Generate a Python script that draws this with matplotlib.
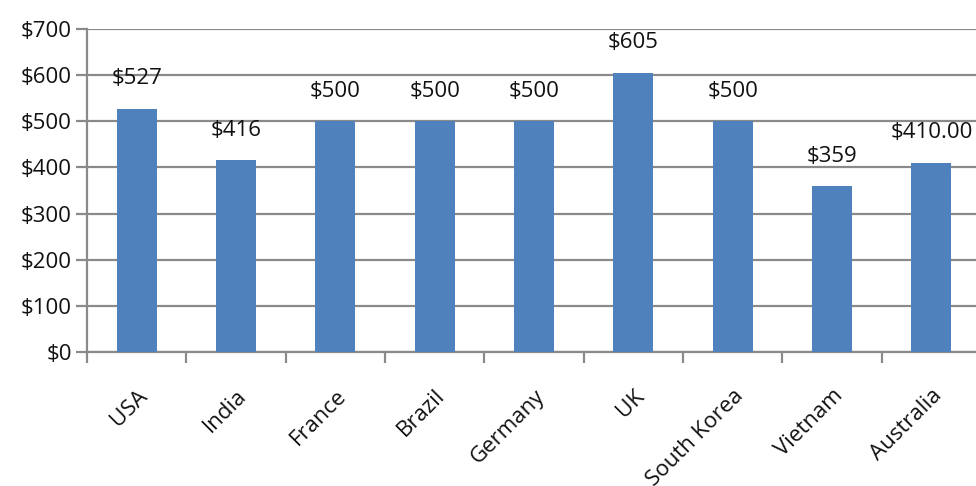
import numpy as np
import matplotlib
matplotlib.use("Agg")
import matplotlib.pyplot as plt

countries = ["USA", "India", "France", "Brazil", "Germany", "UK",
             "South Korea", "Vietnam", "Australia"]
prices = [527, 416, 500, 500, 500, 605, 500, 359, 410]
price_labels = ["$527", "$416", "$500", "$500", "$500", "$605",
                "$500", "$359", "$410.00"]
yticks = [0, 100, 200, 300, 400, 500, 600, 700]

BLUE = "#4f81bd"
GRID = "#8a8a8a"
TXT = "#111111"

plt.rcParams["font.family"] = ["Open Sans", "DejaVu Sans"]

fig = plt.figure(figsize=(9.76, 4.86), dpi=100, facecolor="white")
# axes intentionally run past the right edge (reference is cropped)
ax = fig.add_axes([87 / 976, 1 - 352 / 486, 894 / 976, 323 / 486])

x = np.arange(len(countries))
ax.bar(x, prices, width=0.4, color=BLUE, zorder=3)

for xi, v, lbl in zip(x, prices, price_labels):
    ax.annotate(lbl, (xi, v), xytext=(0, 14), textcoords="offset points",
                ha="center", va="bottom", fontsize=16, color=TXT)

ax.set_xlim(-0.5, len(countries) - 0.5)
ax.set_ylim(0, 700)
ax.set_yticks(yticks)
ax.set_yticklabels([f"${v}" for v in yticks], fontsize=16, color=TXT)
ax.yaxis.grid(True, color=GRID, lw=1.6, zorder=0)

# category labels at centres, tick marks between categories
ax.set_xticks(x)
ax.set_xticklabels(countries, rotation=45, ha="right", rotation_mode="anchor",
                   fontsize=16, color=TXT)
ax.tick_params(axis="x", length=0, pad=24)
ax.set_xticks(np.arange(len(countries) + 1) - 0.5, minor=True)
ax.tick_params(axis="x", which="minor", length=8, width=1.6, color=GRID,
               direction="out")
ax.tick_params(axis="y", length=8, width=1.6, color=GRID, pad=3)

for side in ["top", "right"]:
    ax.spines[side].set_visible(False)
for side in ["left", "bottom"]:
    ax.spines[side].set_color(GRID)
    ax.spines[side].set_linewidth(1.6)

fig.savefig("out.png", dpi=100)
